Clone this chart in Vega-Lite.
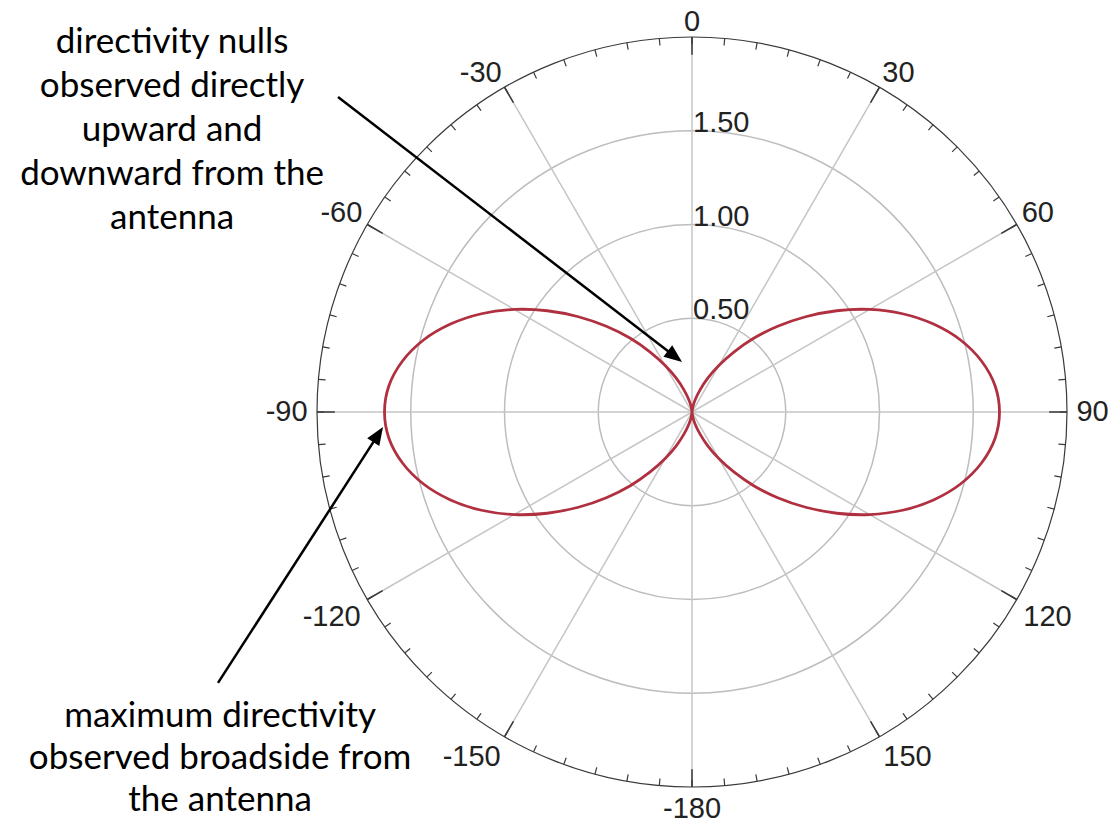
{
  "$schema": "https://vega.github.io/schema/vega-lite/v6.json",
  "width": 750,
  "height": 750,
  "autosize": "none",
  "padding": {"left": 317, "top": 37, "right": 44, "bottom": 39},
  "background": "white",
  "config": {"view": {"stroke": null}},
  "datasets": {
    "rings": [{"r": 0.5, "label": "0.50"}, {"r": 1.0, "label": "1.00"}, {"r": 1.5, "label": "1.50"}],
    "spokes": [
      {"angle": -150, "label": "-150"}, {"angle": -120, "label": "-120"}, {"angle": -90, "label": "-90"},
      {"angle": -60, "label": "-60"}, {"angle": -30, "label": "-30"}, {"angle": 0, "label": "0"},
      {"angle": 30, "label": "30"}, {"angle": 60, "label": "60"}, {"angle": 90, "label": "90"},
      {"angle": 120, "label": "120"}, {"angle": 150, "label": "150"}, {"angle": 180, "label": "-180"}
    ],
    "ticks": [
      {"angle": -175}, {"angle": -170}, {"angle": -165}, {"angle": -160}, {"angle": -155}, {"angle": -150},
      {"angle": -145}, {"angle": -140}, {"angle": -135}, {"angle": -130}, {"angle": -125}, {"angle": -120},
      {"angle": -115}, {"angle": -110}, {"angle": -105}, {"angle": -100}, {"angle": -95}, {"angle": -90},
      {"angle": -85}, {"angle": -80}, {"angle": -75}, {"angle": -70}, {"angle": -65}, {"angle": -60},
      {"angle": -55}, {"angle": -50}, {"angle": -45}, {"angle": -40}, {"angle": -35}, {"angle": -30},
      {"angle": -25}, {"angle": -20}, {"angle": -15}, {"angle": -10}, {"angle": -5}, {"angle": 0},
      {"angle": 5}, {"angle": 10}, {"angle": 15}, {"angle": 20}, {"angle": 25}, {"angle": 30},
      {"angle": 35}, {"angle": 40}, {"angle": 45}, {"angle": 50}, {"angle": 55}, {"angle": 60},
      {"angle": 65}, {"angle": 70}, {"angle": 75}, {"angle": 80}, {"angle": 85}, {"angle": 90},
      {"angle": 95}, {"angle": 100}, {"angle": 105}, {"angle": 110}, {"angle": 115}, {"angle": 120},
      {"angle": 125}, {"angle": 130}, {"angle": 135}, {"angle": 140}, {"angle": 145}, {"angle": 150},
      {"angle": 155}, {"angle": 160}, {"angle": 165}, {"angle": 170}, {"angle": 175}, {"angle": 180}
    ],
    "pattern": [
      {"angle": 0, "x": 0, "y": 0}, {"angle": 5, "x": 0.001, "y": 0.008}, {"angle": 10, "x": 0.005, "y": 0.030},
      {"angle": 15, "x": 0.018, "y": 0.068}, {"angle": 20, "x": 0.043, "y": 0.118}, {"angle": 25, "x": 0.083, "y": 0.179},
      {"angle": 30, "x": 0.143, "y": 0.248}, {"angle": 35, "x": 0.225, "y": 0.321}, {"angle": 40, "x": 0.329, "y": 0.393},
      {"angle": 45, "x": 0.457, "y": 0.457}, {"angle": 50, "x": 0.606, "y": 0.508}, {"angle": 55, "x": 0.772, "y": 0.540},
      {"angle": 60, "x": 0.947, "y": 0.547}, {"angle": 65, "x": 1.123, "y": 0.524}, {"angle": 70, "x": 1.288, "y": 0.469},
      {"angle": 75, "x": 1.432, "y": 0.384}, {"angle": 80, "x": 1.544, "y": 0.272}, {"angle": 85, "x": 1.616, "y": 0.141},
      {"angle": 90, "x": 1.640, "y": 0},
      {"angle": 95, "x": 1.616, "y": -0.141}, {"angle": 100, "x": 1.544, "y": -0.272}, {"angle": 105, "x": 1.432, "y": -0.384},
      {"angle": 110, "x": 1.288, "y": -0.469}, {"angle": 115, "x": 1.123, "y": -0.524}, {"angle": 120, "x": 0.947, "y": -0.547},
      {"angle": 125, "x": 0.772, "y": -0.540}, {"angle": 130, "x": 0.606, "y": -0.508}, {"angle": 135, "x": 0.457, "y": -0.457},
      {"angle": 140, "x": 0.329, "y": -0.393}, {"angle": 145, "x": 0.225, "y": -0.321}, {"angle": 150, "x": 0.143, "y": -0.248},
      {"angle": 155, "x": 0.083, "y": -0.179}, {"angle": 160, "x": 0.043, "y": -0.118}, {"angle": 165, "x": 0.018, "y": -0.068},
      {"angle": 170, "x": 0.005, "y": -0.030}, {"angle": 175, "x": 0.001, "y": -0.008}, {"angle": 180, "x": 0, "y": 0},
      {"angle": 185, "x": -0.001, "y": -0.008}, {"angle": 190, "x": -0.005, "y": -0.030}, {"angle": 195, "x": -0.018, "y": -0.068},
      {"angle": 200, "x": -0.043, "y": -0.118}, {"angle": 205, "x": -0.083, "y": -0.179}, {"angle": 210, "x": -0.143, "y": -0.248},
      {"angle": 215, "x": -0.225, "y": -0.321}, {"angle": 220, "x": -0.329, "y": -0.393}, {"angle": 225, "x": -0.457, "y": -0.457},
      {"angle": 230, "x": -0.606, "y": -0.508}, {"angle": 235, "x": -0.772, "y": -0.540}, {"angle": 240, "x": -0.947, "y": -0.547},
      {"angle": 245, "x": -1.123, "y": -0.524}, {"angle": 250, "x": -1.288, "y": -0.469}, {"angle": 255, "x": -1.432, "y": -0.384},
      {"angle": 260, "x": -1.544, "y": -0.272}, {"angle": 265, "x": -1.616, "y": -0.141}, {"angle": 270, "x": -1.640, "y": 0},
      {"angle": 275, "x": -1.616, "y": 0.141}, {"angle": 280, "x": -1.544, "y": 0.272}, {"angle": 285, "x": -1.432, "y": 0.384},
      {"angle": 290, "x": -1.288, "y": 0.469}, {"angle": 295, "x": -1.123, "y": 0.524}, {"angle": 300, "x": -0.947, "y": 0.547},
      {"angle": 305, "x": -0.772, "y": 0.540}, {"angle": 310, "x": -0.606, "y": 0.508}, {"angle": 315, "x": -0.457, "y": 0.457},
      {"angle": 320, "x": -0.329, "y": 0.393}, {"angle": 325, "x": -0.225, "y": 0.321}, {"angle": 330, "x": -0.143, "y": 0.248},
      {"angle": 335, "x": -0.083, "y": 0.179}, {"angle": 340, "x": -0.043, "y": 0.118}, {"angle": 345, "x": -0.018, "y": 0.068},
      {"angle": 350, "x": -0.005, "y": 0.030}, {"angle": 355, "x": -0.001, "y": 0.008}, {"angle": 360, "x": 0, "y": 0}
    ]
  },
  "layer": [
    {
      "data": {"name": "rings"},
      "mark": {"type": "arc", "theta": 0, "theta2": 6.2832, "filled": false, "fill": null, "stroke": "#bdbdbd", "strokeWidth": 1.5},
      "encoding": {
        "radius": {"field": "r", "type": "quantitative", "stack": null, "scale": {"type": "linear", "domain": [0, 2], "range": [0, 375], "zero": true, "nice": false}}
      }
    },
    {
      "data": {"name": "spokes"},
      "mark": {"type": "arc", "filled": false, "fill": null, "stroke": "#c6c6c6", "strokeWidth": 1.5},
      "encoding": {
        "theta": {"field": "angle", "type": "quantitative", "stack": null, "scale": {"domain": [-180, 180], "range": [-3.14159265, 3.14159265], "nice": false, "zero": false}},
        "theta2": {"field": "angle"},
        "radius": {"datum": 2, "type": "quantitative", "stack": null},
        "radius2": {"datum": 0}
      }
    },
    {
      "data": {"values": [{}]},
      "mark": {"type": "arc", "theta": 0, "theta2": 6.2832, "filled": false, "fill": null, "stroke": "#3a3a3a", "strokeWidth": 1.2},
      "encoding": {
        "radius": {"datum": 2, "type": "quantitative", "stack": null}
      }
    },
    {
      "data": {"name": "ticks"},
      "mark": {"type": "arc", "filled": false, "fill": null, "stroke": "#3a3a3a", "strokeWidth": 1.2},
      "encoding": {
        "theta": {"field": "angle", "type": "quantitative", "stack": null},
        "theta2": {"field": "angle"},
        "radius": {"datum": 2, "type": "quantitative", "stack": null},
        "radius2": {"datum": 1.962}
      }
    },
    {
      "data": {"name": "spokes"},
      "mark": {"type": "arc", "filled": false, "fill": null, "stroke": "#3a3a3a", "strokeWidth": 1.5},
      "encoding": {
        "theta": {"field": "angle", "type": "quantitative", "stack": null},
        "theta2": {"field": "angle"},
        "radius": {"datum": 2, "type": "quantitative", "stack": null},
        "radius2": {"datum": 1.905}
      }
    },
    {
      "data": {"name": "spokes"},
      "transform": [{"filter": "datum.angle == 0"}],
      "mark": {"type": "text", "font": "Liberation Sans", "fontSize": 29, "color": "#222222", "align": "center", "baseline": "alphabetic"},
      "encoding": {
        "theta": {"field": "angle", "type": "quantitative", "stack": null},
        "radius": {"datum": 2.03, "type": "quantitative", "stack": null},
        "text": {"field": "label"}
      }
    },
    {
      "data": {"name": "spokes"},
      "transform": [{"filter": "datum.angle == 30 || datum.angle == 60"}],
      "mark": {"type": "text", "font": "Liberation Sans", "fontSize": 29, "color": "#222222", "align": "left", "baseline": "alphabetic"},
      "encoding": {
        "theta": {"field": "angle", "type": "quantitative", "stack": null},
        "radius": {"datum": 2.03, "type": "quantitative", "stack": null},
        "text": {"field": "label"}
      }
    },
    {
      "data": {"name": "spokes"},
      "transform": [{"filter": "datum.angle == -30 || datum.angle == -60"}],
      "mark": {"type": "text", "font": "Liberation Sans", "fontSize": 29, "color": "#222222", "align": "right", "baseline": "alphabetic"},
      "encoding": {
        "theta": {"field": "angle", "type": "quantitative", "stack": null},
        "radius": {"datum": 2.03, "type": "quantitative", "stack": null},
        "text": {"field": "label"}
      }
    },
    {
      "data": {"name": "spokes"},
      "transform": [{"filter": "datum.angle == 90"}],
      "mark": {"type": "text", "font": "Liberation Sans", "fontSize": 29, "color": "#222222", "align": "left", "baseline": "middle"},
      "encoding": {
        "theta": {"field": "angle", "type": "quantitative", "stack": null},
        "radius": {"datum": 2.05, "type": "quantitative", "stack": null},
        "text": {"field": "label"}
      }
    },
    {
      "data": {"name": "spokes"},
      "transform": [{"filter": "datum.angle == -90"}],
      "mark": {"type": "text", "font": "Liberation Sans", "fontSize": 29, "color": "#222222", "align": "right", "baseline": "middle"},
      "encoding": {
        "theta": {"field": "angle", "type": "quantitative", "stack": null},
        "radius": {"datum": 2.05, "type": "quantitative", "stack": null},
        "text": {"field": "label"}
      }
    },
    {
      "data": {"name": "spokes"},
      "transform": [{"filter": "datum.angle == 120 || datum.angle == 150"}],
      "mark": {"type": "text", "font": "Liberation Sans", "fontSize": 29, "color": "#222222", "align": "left", "baseline": "top"},
      "encoding": {
        "theta": {"field": "angle", "type": "quantitative", "stack": null},
        "radius": {"datum": 2.04, "type": "quantitative", "stack": null},
        "text": {"field": "label"}
      }
    },
    {
      "data": {"name": "spokes"},
      "transform": [{"filter": "datum.angle == -120 || datum.angle == -150"}],
      "mark": {"type": "text", "font": "Liberation Sans", "fontSize": 29, "color": "#222222", "align": "right", "baseline": "top"},
      "encoding": {
        "theta": {"field": "angle", "type": "quantitative", "stack": null},
        "radius": {"datum": 2.04, "type": "quantitative", "stack": null},
        "text": {"field": "label"}
      }
    },
    {
      "data": {"name": "spokes"},
      "transform": [{"filter": "datum.angle == 180"}],
      "mark": {"type": "text", "font": "Liberation Sans", "fontSize": 29, "color": "#222222", "align": "center", "baseline": "top"},
      "encoding": {
        "theta": {"field": "angle", "type": "quantitative", "stack": null},
        "radius": {"datum": 2.04, "type": "quantitative", "stack": null},
        "text": {"field": "label"}
      }
    },
    {
      "data": {"name": "rings"},
      "mark": {"type": "text", "font": "Liberation Sans", "fontSize": 29, "color": "#222222", "align": "left", "baseline": "alphabetic", "dx": 1, "dy": 1},
      "encoding": {
        "x": {"datum": 0, "type": "quantitative", "scale": {"domain": [-2, 2], "nice": false, "zero": false}, "axis": null},
        "y": {"field": "r", "type": "quantitative", "scale": {"domain": [-2, 2], "nice": false, "zero": false}, "axis": null},
        "text": {"field": "label"}
      }
    },
    {
      "data": {"name": "pattern"},
      "mark": {"type": "line", "color": "#b03040", "strokeWidth": 2.8, "interpolate": "catmull-rom"},
      "encoding": {
        "x": {"field": "x", "type": "quantitative", "axis": null},
        "y": {"field": "y", "type": "quantitative", "axis": null},
        "order": {"field": "angle", "type": "quantitative"}
      }
    },
    {
      "data": {"values": [{}]},
      "mark": {"type": "rule", "color": "black", "strokeWidth": 2.5},
      "encoding": {
        "x": {"datum": -1.888, "type": "quantitative"},
        "y": {"datum": 1.680, "type": "quantitative"},
        "x2": {"datum": -0.091},
        "y2": {"datum": 0.296}
      }
    },
    {
      "data": {"values": [{}]},
      "mark": {"type": "rule", "color": "black", "strokeWidth": 2.5},
      "encoding": {
        "x": {"datum": -2.528, "type": "quantitative"},
        "y": {"datum": -1.445, "type": "quantitative"},
        "x2": {"datum": -1.674},
        "y2": {"datum": -0.121}
      }
    },
    {
      "data": {"values": [{}]},
      "mark": {"type": "point", "shape": "M0,0L0.8,2L-0.8,2Z", "filled": true, "color": "black", "opacity": 1, "size": 324, "angle": 127.6, "strokeWidth": 0},
      "encoding": {
        "x": {"datum": -0.053, "type": "quantitative"},
        "y": {"datum": 0.267, "type": "quantitative"}
      }
    },
    {
      "data": {"values": [{}]},
      "mark": {"type": "point", "shape": "M0,0L0.8,2L-0.8,2Z", "filled": true, "color": "black", "opacity": 1, "size": 324, "angle": 32.8, "strokeWidth": 0},
      "encoding": {
        "x": {"datum": -1.648, "type": "quantitative"},
        "y": {"datum": -0.080, "type": "quantitative"}
      }
    },
    {
      "data": {"values": [{}]},
      "mark": {"type": "text", "font": "Lato", "fontSize": 35, "lineHeight": 44, "color": "black", "align": "center", "baseline": "alphabetic"},
      "encoding": {
        "x": {"datum": -2.773, "type": "quantitative"},
        "y": {"datum": 1.915, "type": "quantitative"},
        "text": {"value": ["directivity nulls", "observed directly", "upward and", "downward from the", "antenna"]}
      }
    },
    {
      "data": {"values": [{}]},
      "mark": {"type": "text", "font": "Lato", "fontSize": 35, "lineHeight": 42, "color": "black", "align": "center", "baseline": "alphabetic"},
      "encoding": {
        "x": {"datum": -2.517, "type": "quantitative"},
        "y": {"datum": -1.680, "type": "quantitative"},
        "text": {"value": ["maximum directivity", "observed broadside from", "the antenna"]}
      }
    }
  ]
}
